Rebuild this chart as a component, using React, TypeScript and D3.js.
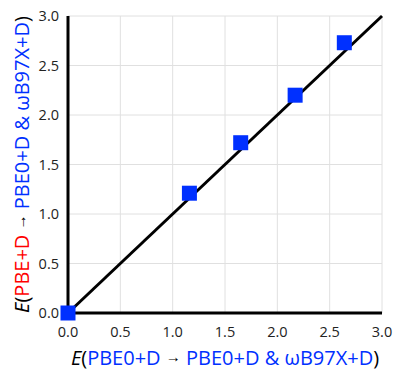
import { useEffect, useRef } from 'react';
import * as d3 from 'd3';

const xValues = [0, 1.16, 1.65, 2.17, 2.64];
const yValues = [0, 1.21, 1.72, 2.2, 2.73];
const ticks = [0, 0.5, 1, 1.5, 2, 2.5, 3];
const parityLine: [number, number][] = [[0, 0], [3, 3]];

const BLUE = '#0030ff';
const RED = '#ff0000';

export default function App() {
  const svgRef = useRef<SVGSVGElement>(null);

  useEffect(() => {
    if (!svgRef.current) return;
    const width = 394;
    const height = 371;
    const margin = { top: 16, right: 12, bottom: 58, left: 68 };
    const svg = d3.select(svgRef.current);
    svg.selectAll('*').remove();
    svg.attr('width', width).attr('height', height);

    const innerWidth = width - margin.left - margin.right;
    const innerHeight = height - margin.top - margin.bottom;
    const g = svg.append('g').attr('transform', `translate(${margin.left},${margin.top})`);

    const x = d3.scaleLinear().domain([0, 3]).range([0, innerWidth]);
    const y = d3.scaleLinear().domain([0, 3]).range([innerHeight, 0]);

    // Grid
    g.append('g')
      .selectAll('line')
      .data(ticks.slice(1))
      .join('line')
      .attr('x1', (d) => x(d))
      .attr('x2', (d) => x(d))
      .attr('y1', 0)
      .attr('y2', innerHeight)
      .attr('stroke', '#e0e0e0')
      .attr('stroke-width', 1);
    g.append('g')
      .selectAll('line')
      .data(ticks.slice(1))
      .join('line')
      .attr('x1', 0)
      .attr('x2', innerWidth)
      .attr('y1', (d) => y(d))
      .attr('y2', (d) => y(d))
      .attr('stroke', '#e0e0e0')
      .attr('stroke-width', 1);

    // Axis lines
    g.append('line').attr('x1', 0).attr('x2', innerWidth).attr('y1', y(0)).attr('y2', y(0)).attr('stroke', '#000').attr('stroke-width', 3);
    g.append('line').attr('x1', x(0)).attr('x2', x(0)).attr('y1', 0).attr('y2', innerHeight).attr('stroke', '#000').attr('stroke-width', 3);

    // Tick labels
    const font = 'Open Sans, Liberation Sans, sans-serif';
    g.append('g')
      .selectAll('text')
      .data(ticks)
      .join('text')
      .attr('x', (d) => x(d))
      .attr('y', innerHeight + 24)
      .attr('text-anchor', 'middle')
      .attr('font-family', font)
      .attr('font-size', 14.5)
      .attr('fill', '#222')
      .text((d) => d.toFixed(1));
    g.append('g')
      .selectAll('text')
      .data(ticks)
      .join('text')
      .attr('x', -9)
      .attr('y', (d) => y(d))
      .attr('dy', '0.35em')
      .attr('text-anchor', 'end')
      .attr('font-family', font)
      .attr('font-size', 14.5)
      .attr('fill', '#222')
      .text((d) => d.toFixed(1));

    // Parity line
    const line = d3.line<[number, number]>().x((d) => x(d[0])).y((d) => y(d[1]));
    g.append('path').datum(parityLine).attr('d', line).attr('fill', 'none').attr('stroke', '#000').attr('stroke-width', 3);

    // Markers
    const size = 15;
    g.append('g')
      .selectAll('rect')
      .data(xValues.map((v, i) => [v, yValues[i]]))
      .join('rect')
      .attr('x', (d) => x(d[0]) - size / 2)
      .attr('y', (d) => y(d[1]) - size / 2)
      .attr('width', size)
      .attr('height', size)
      .attr('fill', BLUE);

    // Axis titles
    const titleSize = 20;
    const arrowSize = 15;
    const addTitle = (sel: d3.Selection<SVGTextElement, unknown, null, undefined>, firstColor: string, first: string) => {
      sel.append('tspan').attr('font-style', 'italic').attr('fill', '#000').text('E');
      sel.append('tspan').attr('fill', '#000').text('(');
      sel.append('tspan').attr('fill', firstColor).text(first + ' ');
      sel.append('tspan').attr('fill', '#000').attr('font-size', arrowSize).attr('font-weight', 'bold').attr('dy', -3).text('→');
      sel.append('tspan').attr('fill', BLUE).attr('dy', 3).text(' PBE0+D & ωB97X+D');
      sel.append('tspan').attr('fill', '#000').text(')');
    };

    const xt = svg
      .append('text')
      .attr('x', margin.left + innerWidth / 2)
      .attr('y', 365)
      .attr('text-anchor', 'middle')
      .attr('font-family', font)
      .attr('font-size', titleSize);
    addTitle(xt, BLUE, 'PBE0+D');

    const yt = svg
      .append('text')
      .attr('transform', `translate(29,${margin.top + innerHeight / 2}) rotate(-90)`)
      .attr('text-anchor', 'middle')
      .attr('font-family', font)
      .attr('font-size', titleSize);
    addTitle(yt, RED, 'PBE+D');
  }, []);

  return (
    <div style={{ position: 'absolute', left: 0, top: 0 }}>
      <svg ref={svgRef} style={{ display: 'block' }} />
    </div>
  );
}
